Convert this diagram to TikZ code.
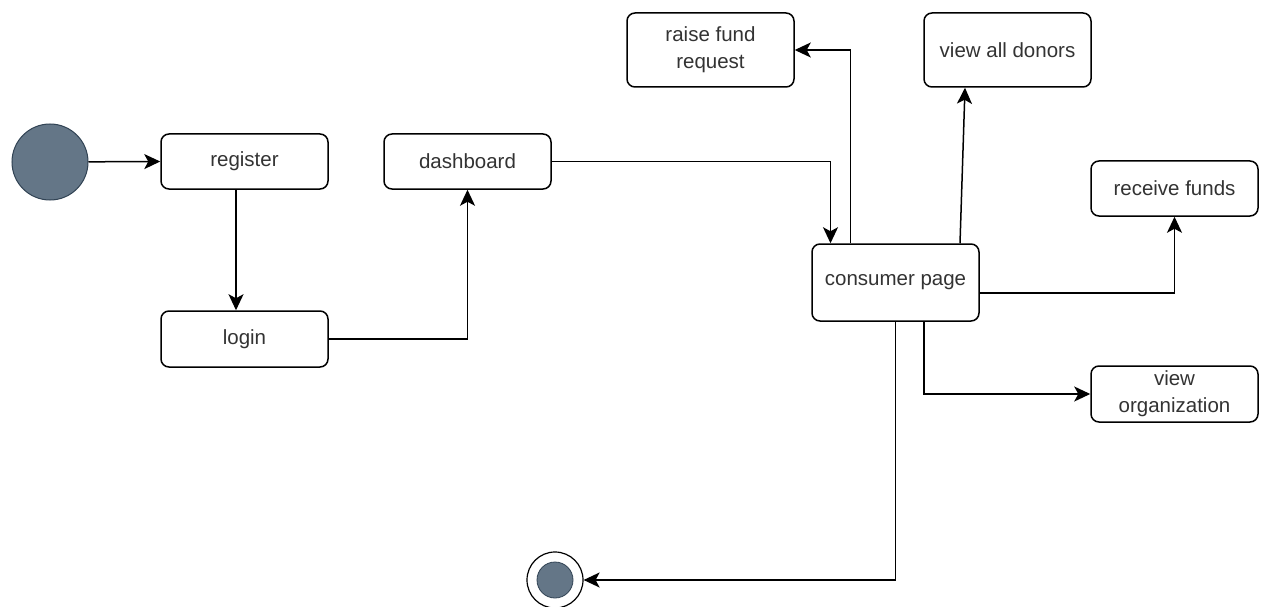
\documentclass[tikz,border=0pt]{standalone}
\usepackage{fontspec}
\setmainfont{Liberation Sans}
\usetikzlibrary{arrows.meta}
\definecolor{statefill}{HTML}{647687}
\definecolor{statedraw}{HTML}{314354}
\definecolor{txt}{HTML}{333333}
\tikzset{
  statebox/.style={draw=black, line width=1.5pt, rounded corners=8pt, fill=white,
    minimum width=167pt, inner sep=2pt, align=center, text=txt,
    font=\fontsize{20.5}{27}\selectfont},
  conn/.style={line width=1.5pt, -{Stealth[length=16pt,width=15pt,inset=4pt]}},
}
\begin{document}
\begin{tikzpicture}[x=1pt,y=-1pt]
\useasboundingbox (0,0) rectangle (1261,607);
\fill[white] (0,0) rectangle (1261,607);
% start / end
\node (start) [circle, fill=statefill, draw=statedraw, line width=1pt, minimum size=76pt, inner sep=0pt] at (50,162) {};
\node (endo) [circle, draw=black, line width=1.2pt, fill=white, minimum size=56pt, inner sep=0pt] at (555,580) {};
\node (endi) [circle, fill=statefill, draw=statedraw, line width=0.8pt, minimum size=36pt, inner sep=0pt] at (555,580) {};
% states
\node (register) [statebox, minimum height=55pt] at (244.5,161.5) {\raisebox{-2pt}{register}};
\node (login) [statebox, minimum height=56pt] at (244.5,339) {\raisebox{-2pt}{login}};
\node (dashboard) [statebox, minimum height=55pt] at (467.5,161.5) {\raisebox{-2pt}{dashboard}};
\node (consumer) [statebox, minimum height=77pt] at (895.5,282.5) {\raisebox{-3pt}{consumer page}};
\node (raise) [statebox, minimum height=74pt] at (710.5,50) {raise fund\\request};
\node (donors) [statebox, minimum height=74pt] at (1007.5,50) {view all donors};
\node (receive) [statebox, minimum height=55pt] at (1174.5,188.5) {receive funds};
\node (vieworg) [statebox, minimum height=56pt] at (1174.5,394) {view\\organization};
% connectors
\draw[conn] (start) -- (register.west);
\draw[conn] ([xshift=-8.5pt]register.south) -- ([xshift=-8.5pt]login.north);
\draw[conn] (login.east) -| (dashboard.south);
\draw[conn] (dashboard.east) -| ([xshift=-65pt]consumer.north);
\draw[conn] ([xshift=-45pt]consumer.north) |- (raise.east);
\draw[conn] ([xshift=64.5pt]consumer.north) -- ([xshift=-42.5pt]donors.south);
\draw[conn] ([yshift=-10.5pt]consumer.east) -| (receive.south);
\draw[conn] ([xshift=28.5pt]consumer.south) |- (vieworg.west);
\draw[conn] (consumer.south) |- (endo.east);
\end{tikzpicture}
\end{document}
